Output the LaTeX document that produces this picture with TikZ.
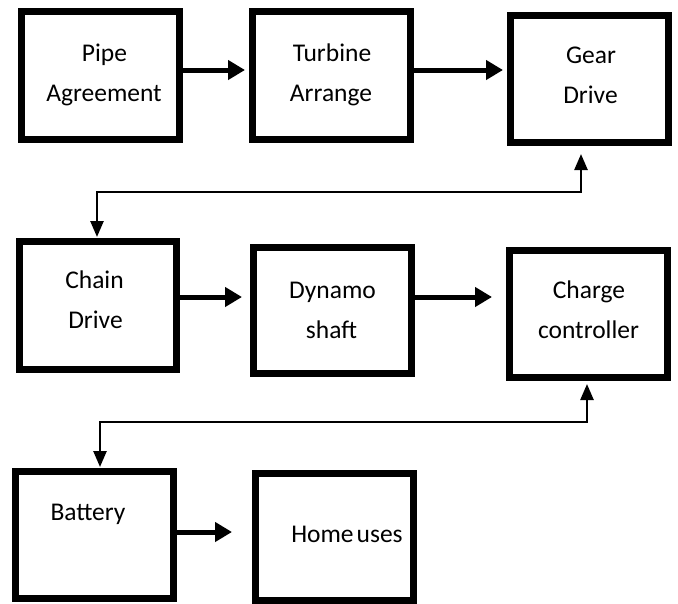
\documentclass[tikz,border=0pt]{standalone}
\usepackage{fontspec}
\setmainfont{Carlito}
\usetikzlibrary{arrows.meta}
\begin{document}
\begin{tikzpicture}[x=1pt,y=-1pt,
  box/.style={draw=black,line width=7pt,fill=white,inner sep=0pt,
    minimum width=158pt,minimum height=127pt},
  txt/.style={anchor=base,inner sep=0pt,font=\fontsize{25.5}{30}\selectfont},
  bigarrow/.style={line width=5pt,-{Triangle[length=17pt,width=19pt]}},
  thinarrow/.style={line width=2.5pt,{Triangle[length=16pt,width=13pt]}-{Triangle[length=16pt,width=13pt]}}]
\useasboundingbox (0,0) rectangle (678,603);
\fill[white] (0,0) rectangle (678,603);
% boxes
\node[box,minimum height=128pt] (pipe) at (100.5,75.5) {};
\node[box,minimum height=128pt] (turb) at (331.5,75.5) {};
\node[box] (gear) at (589.5,79) {};
\node[box,minimum width=157pt,minimum height=128pt] (chain) at (98,305.5) {};
\node[box,minimum height=126pt] (dyn) at (332.5,310.5) {};
\node[box] (charge) at (588.5,314) {};
\node[box] (batt) at (94.5,535) {};
\node[box] (home) at (334.5,537) {};
% texts
\node[txt] (pipeA) at (104.5,61) {Pipe};
\node[txt] (pipeB) at (104,101) {Agreement};
\node[txt] (turbA) at (332,61) {Turbine};
\node[txt] (turbB) at (331,101) {Arrange};
\node[txt] (gearA) at (591,63) {Gear};
\node[txt] (gearB) at (590.5,103) {Drive};
\node[txt] (chainA) at (94.5,288) {Chain};
\node[txt] (chainB) at (95.5,328) {Drive};
\node[txt] (dynA) at (332.5,298) {Dynamo};
\node[txt] (dynB) at (331.5,338) {shaft};
\node[txt] (chA) at (589,298) {Charge};
\node[txt] (chB) at (588.5,338) {controller};
\node[txt] (battA) at (88,520) {Battery};
\node[txt] (homeA) at (347,542) {\spaceskip=3pt Home uses};
% forward arrows
\draw[bigarrow,shorten >=4pt] ([yshift=5.5pt]pipe.east) -- ([yshift=5.5pt]turb.west);
\draw[bigarrow,shorten >=4pt] ([yshift=5.5pt]turb.east) -- ([yshift=9pt]gear.west);
\draw[bigarrow,shorten >=8pt] ([yshift=8.5pt]chain.east) -- ([yshift=13.5pt]dyn.west);
\draw[bigarrow,shorten >=14pt] ([yshift=13.5pt]dyn.east) -- ([yshift=17pt]charge.west);
\draw[bigarrow,shorten >=20pt] ([yshift=3pt]batt.east) -- ([yshift=5pt]home.west);
% return connectors
\coordinate (j1) at (581,192);
\coordinate (j2) at (587,422);
\draw[thinarrow,shorten <=8pt,shorten >=1pt] ([xshift=-8.5pt]gear.south) -- (j1) -| ([xshift=-1pt]chain.north);
\draw[thinarrow,shorten <=3pt,shorten >=1pt] ([xshift=-1.5pt]charge.south) -- (j2) -| ([xshift=5.5pt]batt.north);
\end{tikzpicture}
\end{document}
